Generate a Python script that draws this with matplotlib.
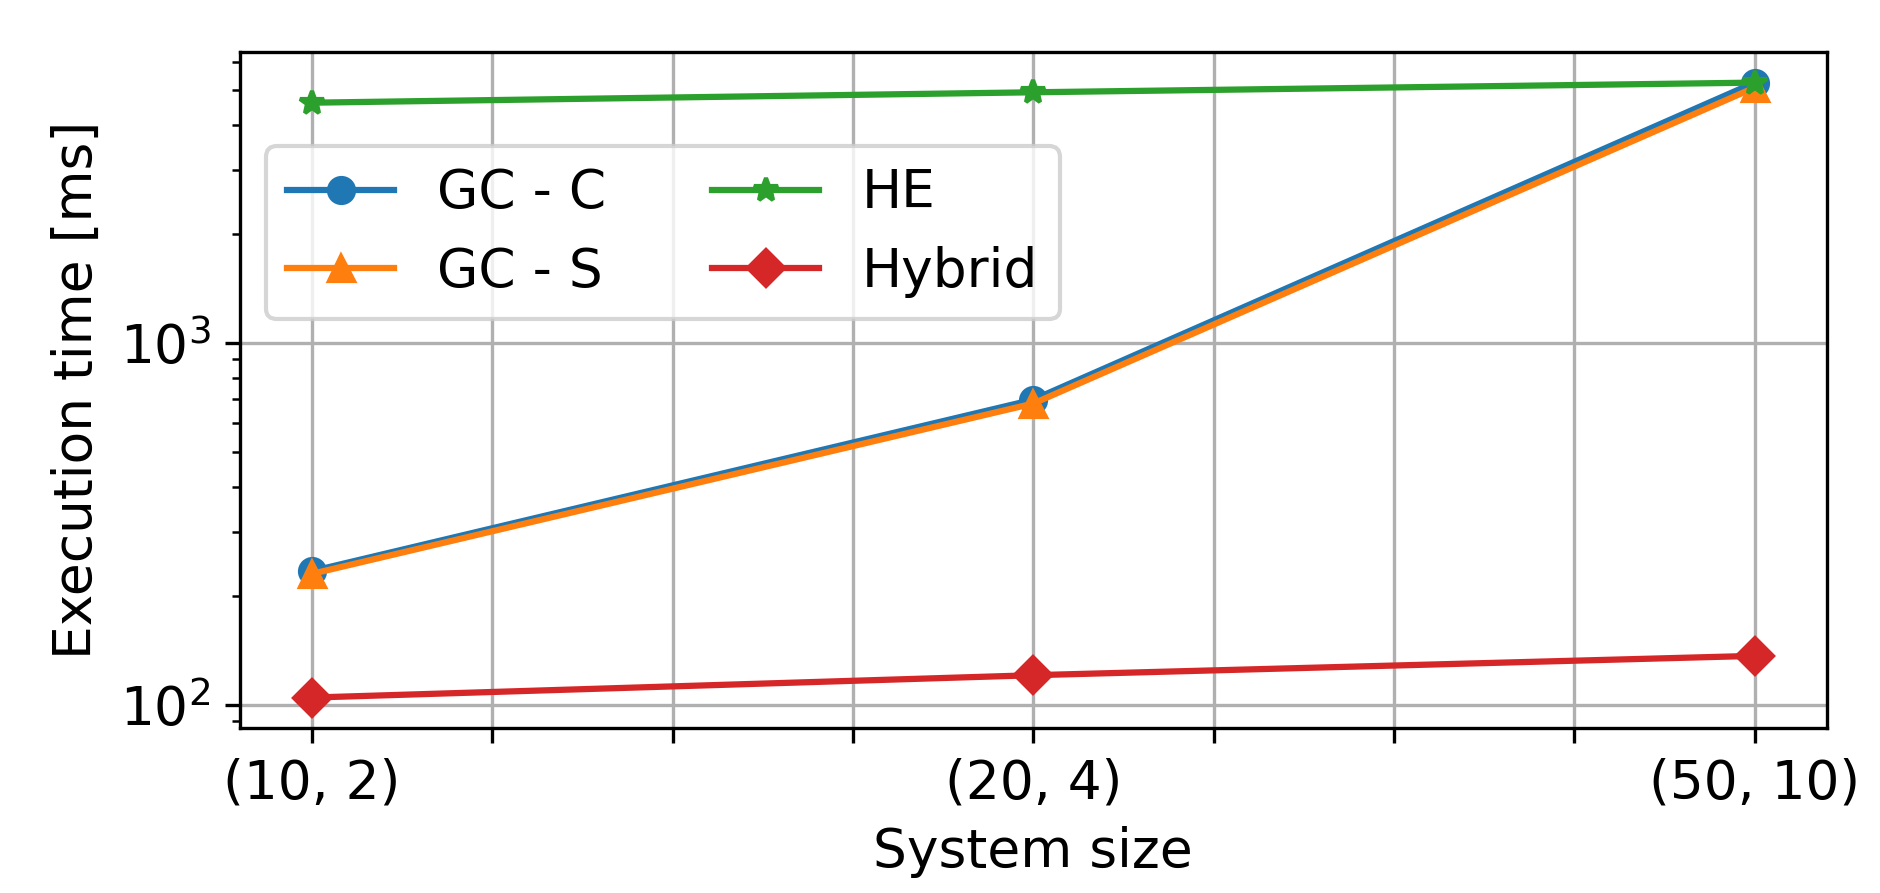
import matplotlib
matplotlib.use("Agg")
import matplotlib.pyplot as plt
import numpy as np

# system sizes and measured execution times (ms)
sizes = ["(10, 2)", "(20, 4)", "(50, 10)"]
gc_c = [234, 697, 5245]
gc_s = [230, 680, 5080]
he = [4616, 4932, 5245]
hybrid = [104.6, 120.6, 136.4]

x = [0, 4, 8]

plt.rcParams["font.size"] = 12.8
fig = plt.figure(figsize=(6.27, 2.977), dpi=300)
ax = fig.add_subplot(111)
fig.subplots_adjust(left=0.1276, right=0.9711, top=0.9418, bottom=0.1844)

ax.plot(x, gc_c, marker="o", label="GC - C")
ax.plot(x, gc_s, marker="^", label="GC - S")
ax.plot(x, he, marker="*", label="HE")
ax.plot(x, hybrid, marker="D", label="Hybrid")

ax.set_yscale("log")
ax.set_xticks(range(9))
ax.set_xticklabels([sizes[0], "", "", "", sizes[1], "", "", "", sizes[2]])
ax.grid(True, color="#b0b0b0")
ax.set_xlabel("System size")
ax.set_ylabel("Execution time [ms]")

ax.legend(ncol=2, loc="upper left", bbox_to_anchor=(0.0164, 0.861),
          borderaxespad=0, fontsize=12.8)

fig.savefig("out.png", dpi=300)
